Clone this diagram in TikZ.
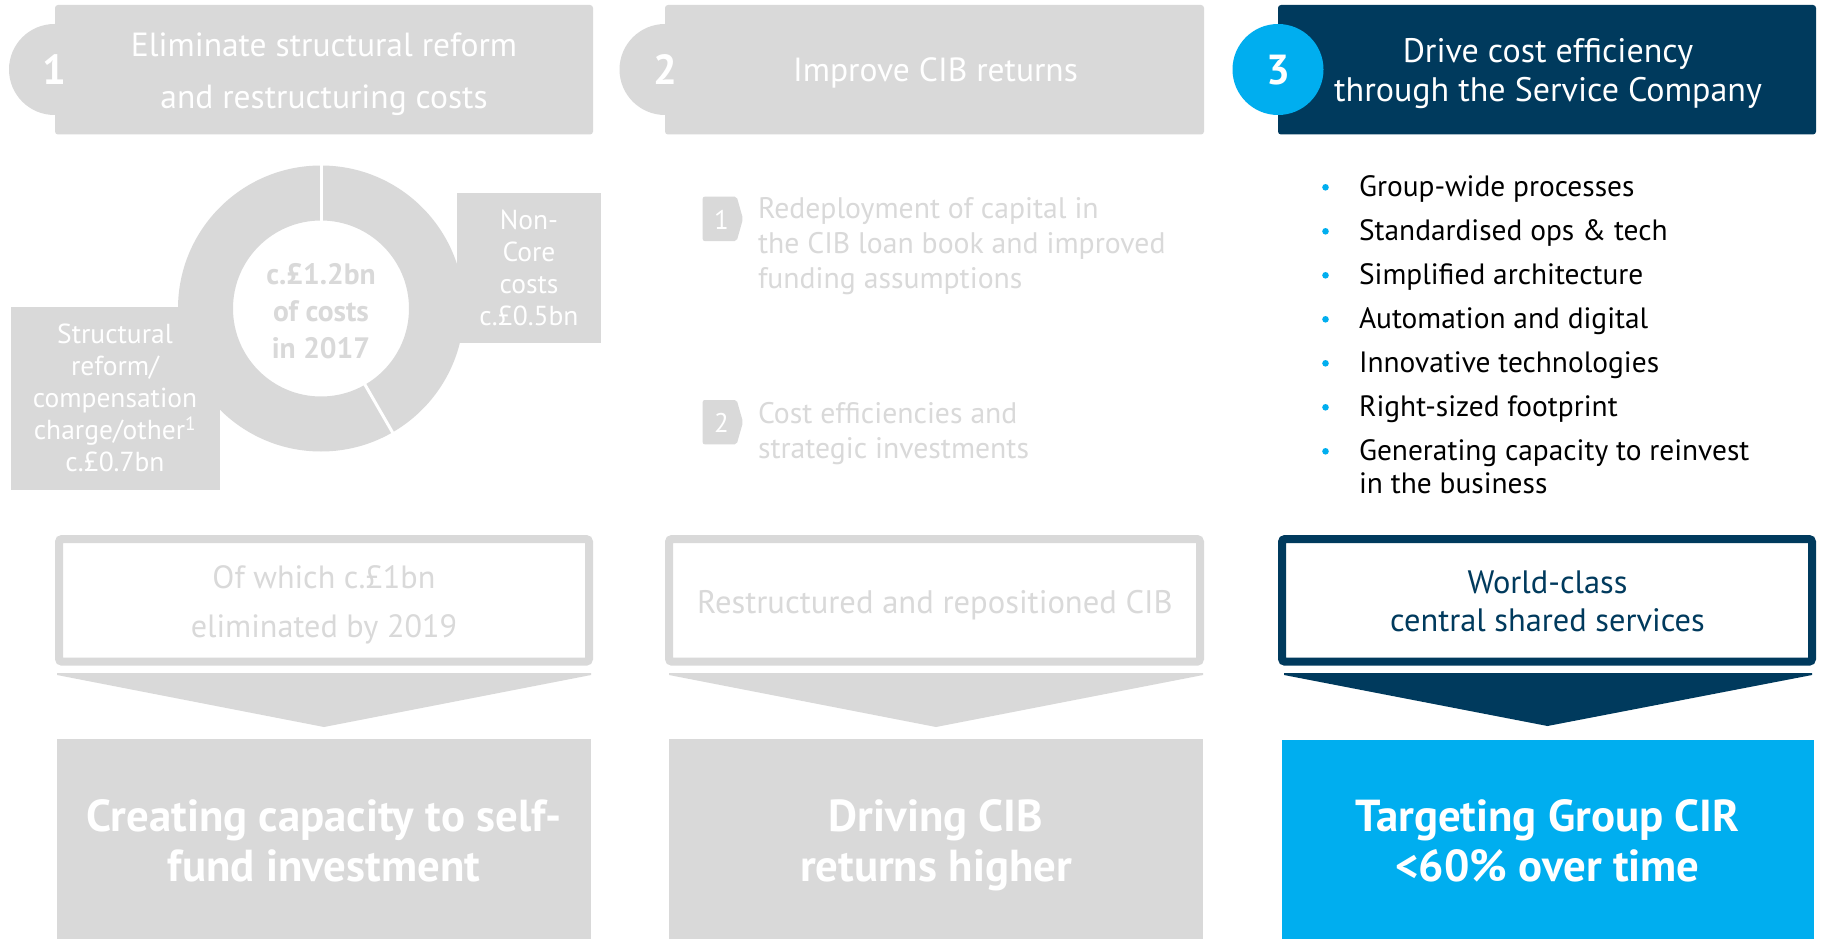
\documentclass[tikz,border=0pt]{standalone}
\usepackage{fontspec}
\setmainfont{PT Sans}
\usetikzlibrary{calc}
\definecolor{panelgray}{HTML}{D9D9D9}
\definecolor{navy}{HTML}{003A5D}
\definecolor{brightblue}{HTML}{00AEEF}
\newcommand{\setfs}[2]{\fontsize{#1}{#2}\selectfont}
% Multi-line nodes below are placed by the baseline of their last line.
\begin{document}
\begin{tikzpicture}[x=1pt,y=-1pt,
  txt/.style={inner sep=0pt, outer sep=0pt, align=center, anchor=base},
  ltxt/.style={inner sep=0pt, outer sep=0pt, align=left, anchor=base west},
  badgenum/.style={txt, text=white, font=\setfs{42}{42}\bfseries},
  headtext/.style={txt, text=white, font=\setfs{33.5}{51.7}},
  outline/.style={line width=8pt, rounded corners=3pt},
  bigtext/.style={txt, text=white, font=\setfs{44.8}{50}\bfseries},
  bulletdot/.style={fill=brightblue},
  bullettext/.style={ltxt, text=black, font=\setfs{29.4}{32.6}}
]
\useasboundingbox[fill=white] (0,0) rectangle (1821,939);

% ---------------- column 1: headers ----------------
\fill[panelgray, rounded corners=3pt] (55,5) rectangle (593,134.5);
\fill[panelgray] (54.5,69.5) circle (45.5);
\node[badgenum] (n1) at (54,85) {1};
\node[headtext] (h1) at (324,108.3) {Eliminate structural reform\\and restructuring costs};

% ---------------- column 2: headers ----------------
\fill[panelgray, rounded corners=3pt] (665,5) rectangle (1204,134.5);
\fill[panelgray] (665,69.5) circle (45.5);
\node[badgenum] (n2) at (665,85) {2};
\node[headtext] (h2) at (935.5,81.7) {Improve CIB returns};

% ---------------- column 3: headers ----------------
\fill[navy, rounded corners=3pt] (1278,5) rectangle (1816,134.5);
\fill[brightblue] (1278,69.5) circle (45.5);
\node[badgenum] (n3) at (1278,85) {3};
\node[txt, text=white, font=\setfs{34}{39}] (h3) at (1548,101.7)
  {Drive cost efficiency\\through the Service Company};

% ---------------- column 1: cost donut ----------------
\coordinate (dc) at (321,308.5);
\fill[panelgray, even odd rule] (dc) circle (143) (dc) circle (88);
\draw[white, line width=3pt] ($(dc)+(90:86pt)$) -- ($(dc)+(90:145pt)$);
\draw[white, line width=3pt] ($(dc)+(-60:86pt)$) -- ($(dc)+(-60:145pt)$);
\fill[panelgray] (456.7,193.3) rectangle (601,343.3);
\fill[panelgray] (11,307) rectangle (220,490);
\node[txt, text=panelgray, font=\setfs{29.5}{36.7}\bfseries] (dtot) at (321,358)
  {c.£1.2bn\\of costs\\in 2017};
\node[txt, text=white, font=\setfs{27.5}{31.7}] (dnc) at (529,325)
  {Non-\\Core\\costs\\c.£0.5bn};
\node[txt, text=white, font=\setfs{27.5}{32.1}] (dsr) at (115,471.7)
  {Structural\\reform/\\compensation\\charge/other\textsuperscript{1}\\c.£0.7bn};

% ---------------- column 2: numbered items ----------------
\foreach \dy/\k in {0/1, 203.3/2} {
  \fill[panelgray, rounded corners=2pt] (702.7,196.7+\dy) -- (736.7,196.7+\dy)
    -- (743,218.8+\dy) -- (736.7,241+\dy) -- (702.7,241+\dy) -- cycle;
  \node[txt, text=white, font=\setfs{27}{27}] (tag\k) at (721.5,229.5+\dy) {\k};
}
\node[ltxt, text=panelgray, font=\setfs{29.7}{35}] (it1) at (758,288.3)
  {Redeployment of capital in\\the CIB loan book and improved\\funding assumptions};
\node[ltxt, text=panelgray, font=\setfs{29.7}{35}] (it2) at (758,458.3)
  {Cost efficiencies and\\strategic investments};

% ---------------- column 3: bullet list ----------------
\foreach \t [count=\i from 0] in {Group-wide processes, Standardised ops \& tech,
    Simplified architecture, Automation and digital, Innovative technologies,
    Right-sized footprint} {
  \fill[bulletdot] (1325.5,187.3+44*\i) circle (3.3);
  \node[bullettext] (bl\i) at (1359,196.7+44*\i) {\t};
}
\fill[bulletdot] (1325.5,451.3) circle (3.3);
\node[bullettext] (bl6) at (1359,493.3) {Generating capacity to reinvest\\in the business};

% ---------------- bottom row: outcome boxes ----------------
\draw[panelgray, outline] (59,539) rectangle (589,661.7);
\node[txt, text=panelgray, font=\setfs{32.2}{49}] (o1) at (324,637.3)
  {Of which c.£1bn\\eliminated by 2019};
\fill[panelgray] (57,673) -- (591,673) -- (591,675) -- (324,727) -- (57,675) -- cycle;
\fill[panelgray] (57,739) rectangle (591,939);
\node[bigtext] (r1) at (324,881.7) {Creating capacity to self-\\fund investment};

\draw[panelgray, outline] (669,539) rectangle (1200,661.7);
\node[txt, text=panelgray, font=\setfs{32.6}{32.6}] (o2) at (935,613.3)
  {Restructured and repositioned CIB};
\fill[panelgray] (669,673) -- (1203,673) -- (1203,675) -- (936,727) -- (669,675) -- cycle;
\fill[panelgray] (669,739) rectangle (1203,939);
\node[bigtext] (r2) at (936,881.7) {Driving CIB\\returns higher};

\draw[navy, outline] (1282,539) rectangle (1812,661.7);
\node[txt, text=navy, font=\setfs{32.4}{38.4}] (o3) at (1547.5,631.7)
  {World-class\\central shared services};
\fill[navy] (1284,673) -- (1812,673) -- (1812,675) -- (1547.5,726) -- (1284,675) -- cycle;
\fill[brightblue] (1282,740) rectangle (1813.5,939);
\node[bigtext] (r3) at (1547.5,881.7) {Targeting Group CIR\\<60\% over time};
\end{tikzpicture}
\end{document}
